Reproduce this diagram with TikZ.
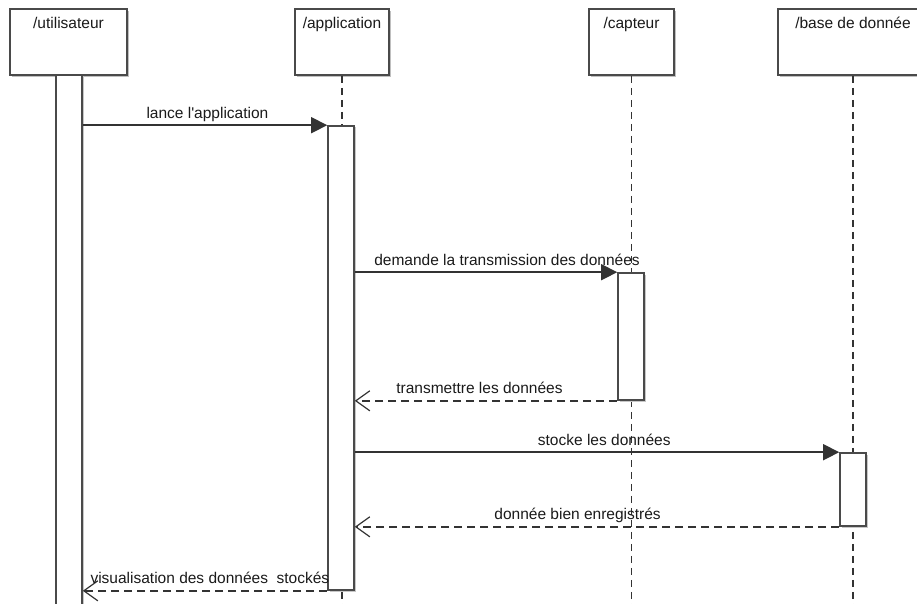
\documentclass[tikz,border=0pt]{standalone}
\usepackage{fontspec}
\setmainfont{Liberation Sans}
\usetikzlibrary{arrows.meta,shadows}
\definecolor{linegray}{HTML}{333333}
\definecolor{boxgray}{HTML}{4A4A4A}
\definecolor{inkgray}{HTML}{1A1A1A}
\begin{document}
\begin{tikzpicture}[x=1pt,y=-1pt,
  every node/.style={font=\fontsize{15.5}{18}\selectfont, text=inkgray},
  actor/.style={draw=boxgray, line width=1.6pt, fill=white, inner sep=0pt,
    general shadow={shadow xshift=1.8pt, shadow yshift=-1.8pt, fill=black!25}},
  bar/.style={draw=boxgray, line width=1.6pt, fill=white, inner sep=0pt,
    minimum width=26pt,
    general shadow={shadow xshift=1.5pt, shadow yshift=-1.5pt, fill=black!22}},
  lifeline/.style={draw=linegray, line width=1.6pt, dash pattern=on 7pt off 5pt},
  call/.style={draw=linegray, line width=1.5pt, -{Triangle[length=16pt,width=16pt]}},
  reply/.style={draw=linegray, line width=1.4pt, dash pattern=on 8pt off 5pt,
    -{Straight Barb[length=14pt,width=20pt,line width=1.2pt]}},
  msglabel/.style={anchor=base, yshift=7pt, inner sep=0pt},
]
\useasboundingbox (0,0) rectangle (917,604);
\coordinate (bottom) at (0,612);

% participants
\node[actor, minimum width=117pt, minimum height=66pt,
      label={[anchor=base, yshift=-20pt]north:/utilisateur}] (u) at (68.5,42) {};
\node[actor, minimum width=94pt, minimum height=66pt,
      label={[anchor=base, yshift=-20pt]north:/application}] (a) at (342,42) {};
\node[actor, minimum width=85pt, minimum height=66pt,
      label={[anchor=base, yshift=-20pt]north:/capteur}] (c) at (631.5,42) {};
\node[actor, minimum width=150pt, minimum height=66pt,
      label={[anchor=base, yshift=-20pt]north:/base de donnée}] (b) at (853,42) {};

% lifelines
\draw[lifeline] (a.south) -- (a.south |- bottom);
\draw[lifeline] (c.south) -- (c.south |- bottom);
\draw[lifeline] (b.south) -- (b.south |- bottom);

% activation bars
\node[bar, minimum height=537pt] (actU) at (69,343.5) {};
\node[bar, minimum height=464pt] (actA) at (341,358) {};
\node[bar, minimum height=127pt] (actC) at (631,336.5) {};
\node[bar, minimum height=73pt] (actB) at (853,489.5) {};

% messages
\draw[call] (actU.east |- actA.north) -- (actA.north west)
  node[msglabel, pos=0.51] {lance l\textquotesingle application};
\draw[call] (actA.east |- actC.north) -- (actC.north west)
  node[msglabel, pos=0.58] {demande la transmission des données};
\draw[reply] (actC.south west) -- (actA.east |- actC.south)
  node[msglabel, pos=0.525] {transmettre les données};
\draw[call] (actA.east |- actB.north) -- (actB.north west)
  node[msglabel, pos=0.515] {stocke les données};
\draw[reply] (actB.south west) -- (actA.east |- actB.south)
  node[msglabel, pos=0.54] {donnée bien enregistrés};
\draw[reply] (actA.south west) -- (actU.east |- actA.south)
  node[msglabel, pos=0.48] {visualisation des données\ \ stockés};
\end{tikzpicture}
\end{document}
